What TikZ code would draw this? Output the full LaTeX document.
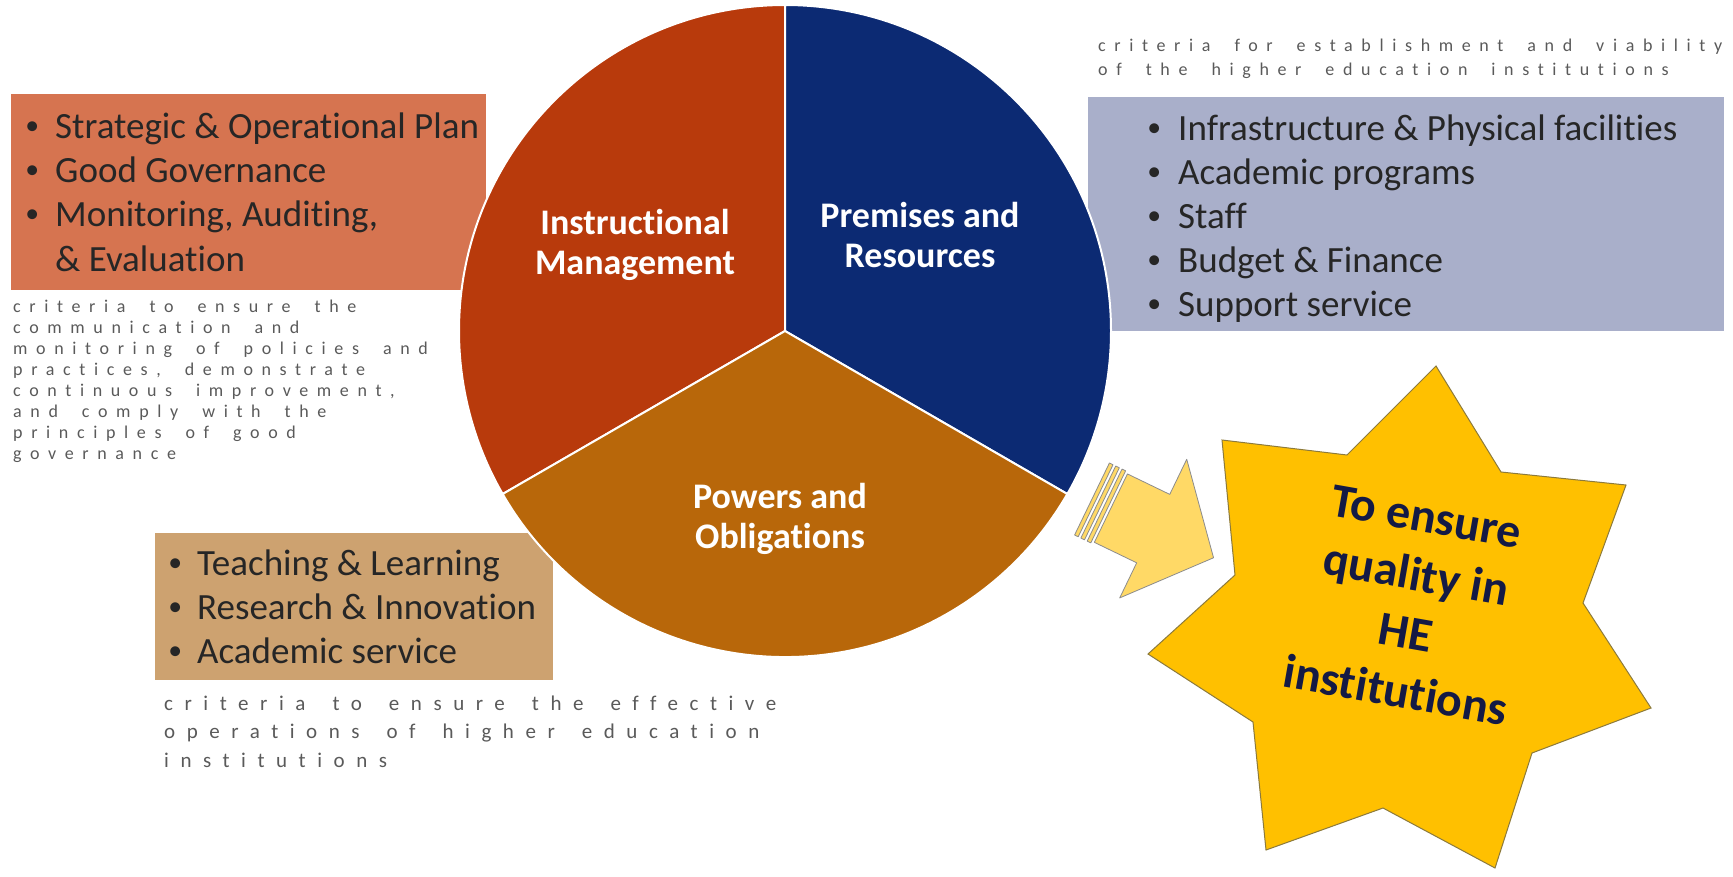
\documentclass[tikz,border=0pt]{standalone}
\usepackage{fontspec}
\usepackage{graphicx}
\setmainfont{Carlito}[Ligatures=CommonOff]
\newfontfamily\spacedS{Carlito}[LetterSpace=48,Ligatures=CommonOff]
\newfontfamily\spacedL{Carlito}[LetterSpace=55,Ligatures=CommonOff]
\definecolor{cIM}{HTML}{B83A0C}
\definecolor{cPR}{HTML}{0C2A73}
\definecolor{cPO}{HTML}{B8670A}
\definecolor{cBL}{HTML}{D67450}
\definecolor{cBR}{HTML}{A9AFCA}
\definecolor{cBB}{HTML}{CDA270}
\definecolor{cStar}{HTML}{FFC000}
\definecolor{cStarEdge}{HTML}{8C7A3C}
\definecolor{cArrow}{HTML}{FFD966}
\definecolor{cArrowEdge}{HTML}{8C8C8C}
\definecolor{cSmall}{HTML}{5A5A5A}
\definecolor{cTxt}{HTML}{262626}
\definecolor{cStarTxt}{HTML}{141A45}
\newcommand{\mybul}[1]{\makebox[0pt]{\raisebox{4pt}{\scalebox{0.75}{\textbullet}}}\hspace{#1pt}}
\newcommand{\smallsp}{\spaceskip 24pt\relax}
\newcommand{\largesp}{\spaceskip 27pt\relax}
\begin{document}
\begin{tikzpicture}[x=1pt,y=-1pt,
  bullet/.style={anchor=base west,inner sep=0pt,text=cTxt,font=\fontsize{37}{44}\selectfont},
  smalltxt/.style={anchor=base west,inner sep=0pt,text=cSmall,font=\spacedS\fontsize{18}{21}\selectfont\smallsp},
  smalltxtL/.style={anchor=base west,inner sep=0pt,text=cSmall,font=\spacedL\fontsize{21}{28}\selectfont\largesp},
  sector/.style={draw=white,line width=2pt},
  seclabel/.style={align=center,inner sep=0pt,text=white,font=\bfseries\fontsize{36}{40}\selectfont},
  startxt/.style={align=center,inner sep=0pt,rotate=-10,font=\bfseries\fontsize{48}{59}\selectfont},
  stripe/.style={fill=cArrow,draw=cArrowEdge,line width=0.8pt,line join=round}]
\useasboundingbox (0,0) rectangle (1733,876);
\fill[white] (0,0) rectangle (1733,876);

% boxes
\fill[cBL] (11,94) rectangle (486,290);
\fill[cBR] (1088,97) rectangle (1724,331);
\fill[cBB] (155,533) rectangle (553,680);

% pie
\coordinate (C) at (785,331);
\path[sector,fill=cIM] (C) -- ++(-90:326) arc[start angle=-90,end angle=-210,radius=326] -- cycle;
\path[sector,fill=cPR] (C) -- ++(-90:326) arc[start angle=-90,end angle=30,radius=326] -- cycle;
\path[sector,fill=cPO] (C) -- ++(150:326) arc[start angle=150,end angle=30,radius=326] -- cycle;

\node[seclabel] (im) at (635,245) {Instructional\\Management};
\node[seclabel] (pr) at (920,235) {Premises and\\Resources};
\node[seclabel] (po) at (780,519) {Powers and\\Obligations};

% left box text
\node[bullet] (l1) at (32,138) {\mybul{23}Strategic \& Operational Plan};
\node[bullet] (l2) at (32,182) {\mybul{23}Good Governance};
\node[bullet] (l3) at (32,226) {\mybul{23}Monitoring, Auditing,};
\node[bullet] (l4) at (55,271) {\& Evaluation};

% right box text
\node[bullet] (r1) at (1154,140) {\mybul{24}Infrastructure \& Physical facilities};
\node[bullet] (r2) at (1154,184) {\mybul{24}Academic programs};
\node[bullet] (r3) at (1154,228) {\mybul{24}Staff};
\node[bullet] (r4) at (1154,272) {\mybul{24}Budget \& Finance};
\node[bullet] (r5) at (1154,316) {\mybul{24}Support service};

% bottom box text
\node[bullet] (b1) at (175,575) {\mybul{22}Teaching \& Learning};
\node[bullet] (b2) at (175,619) {\mybul{22}Research \& Innovation};
\node[bullet] (b3) at (175,663) {\mybul{22}Academic service};

% small criteria texts
\node[smalltxt] (s1) at (13,312) {criteria to ensure the};
\node[smalltxt] (s2) at (13,333) {communication and};
\node[smalltxt] (s3) at (13,354) {monitoring of policies and};
\node[smalltxt] (s4) at (13,375) {practices, demonstrate};
\node[smalltxt] (s5) at (13,396) {continuous improvement,};
\node[smalltxt] (s6) at (13,417) {and comply with the};
\node[smalltxt] (s7) at (13,438) {principles of good};
\node[smalltxt] (s8) at (13,459) {governance};

\node[smalltxt] (t1) at (1098,51) {criteria for establishment and viability};
\node[smalltxt] (t2) at (1098,75) {of the higher education institutions};

\node[smalltxtL] (u1) at (164,710) {criteria to ensure the effective};
\node[smalltxtL] (u2) at (164,738) {operations of higher education};
\node[smalltxtL] (u3) at (164,767) {institutions};

% striped arrow
\begin{scope}[shift={(1092,499)},rotate=-25.8]
  \path[stripe] (0,-40) rectangle (4,40);
  \path[stripe] (7,-40) rectangle (11,40);
  \path[stripe] (14,-40) rectangle (18,40);
  \path[stripe] (21,-38) -- (68,-38) -- (68,-77) -- (135,0) -- (68,77) -- (68,38) -- (21,38) -- cycle;
\end{scope}

% star
\path[fill=cStar,draw=cStarEdge,line width=1pt,line join=miter]
  (1436,366) -- (1501,472) -- (1626,485) -- (1583,603) -- (1651,708) -- (1532,753)
  -- (1495,868) -- (1383,808) -- (1266,850) -- (1253,722) -- (1148,654) -- (1235,575)
  -- (1222,440) -- (1347,455) -- cycle;
\node[startxt,text=cStarTxt] (startext) at (1411,604) {To ensure\\quality in\\HE\\institutions};
\end{tikzpicture}
\end{document}
